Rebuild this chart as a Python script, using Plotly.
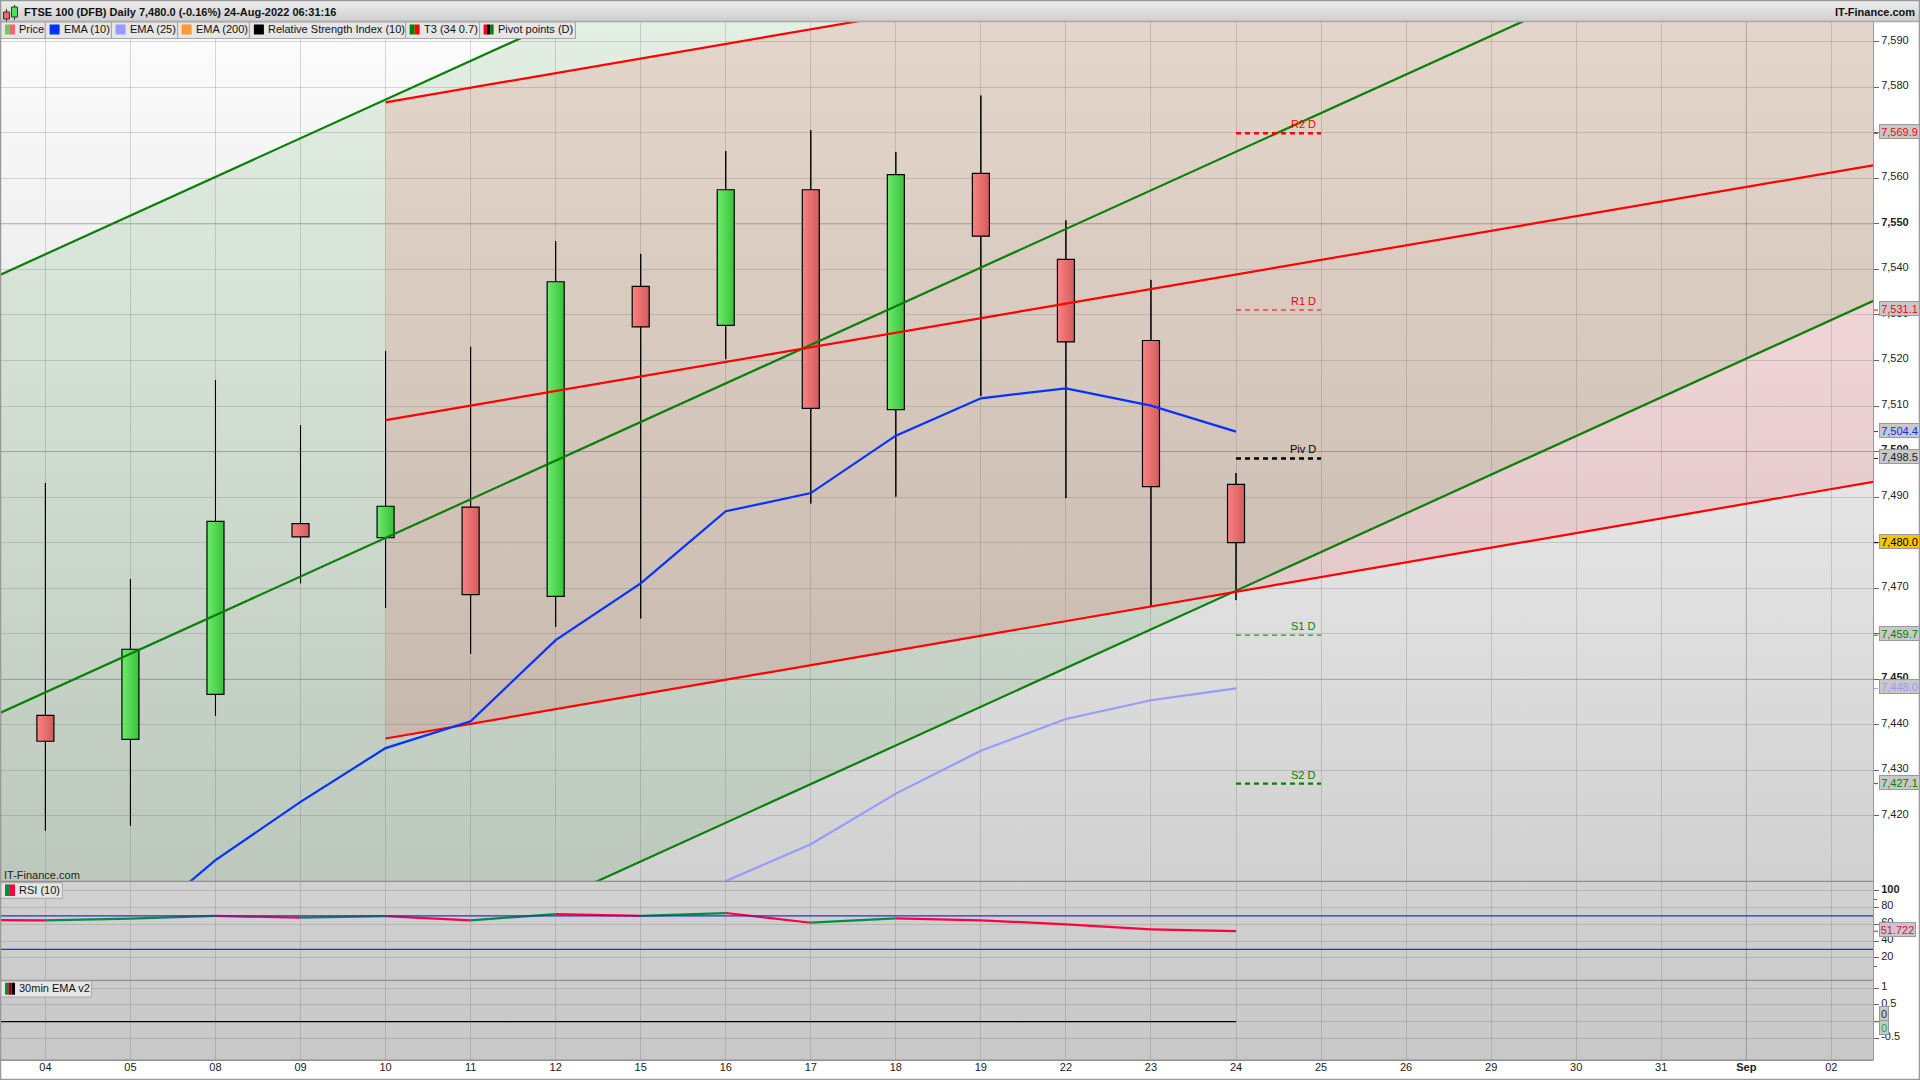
import base64
import plotly.graph_objects as go

W, H = 1920, 1080

# ---------- data ----------
tick_labels = ["04","05","08","09","10","11","12","15","16","17","18","19","22","23","24","25","26","29","30","31","Sep","02"]
candle_pos = list(range(15))
opens  = [7442.1,7436.8,7446.7,7484.2,7481.1,7487.8,7468.2,7536.3,7527.7,7557.5,7509.2,7561.1,7542.2,7524.4,7492.8]
closes = [7436.4,7456.6,7484.7,7481.3,7488.0,7468.6,7537.3,7527.4,7557.5,7509.5,7560.8,7547.3,7524.1,7492.3,7480.0]
highs  = [7493.1,7472.0,7515.7,7505.8,7522.1,7523.0,7546.2,7543.4,7566.0,7570.6,7565.8,7578.2,7550.8,7537.7,7495.3]
lows   = [7416.8,7417.9,7442.0,7471.1,7465.7,7455.6,7461.5,7463.4,7520.3,7488.6,7490.1,7512.2,7489.8,7466.1,7467.4]

ema10_pos = [1,2,3,4,5,6,7,8,9,10,11,12,13,14]
ema10 = [7394.5,7410.3,7423.1,7434.9,7440.8,7458.6,7471.05,7486.9,7490.9,7503.5,7511.7,7513.9,7510.1,7504.4]
ema25_pos = [8,9,10,11,12,13,14]
ema25 = [7405.7,7413.8,7424.9,7434.3,7441.3,7445.4,7448.0]

line_ends = [-1, 22]
green_upper = [7534.85, 7730.1]
green_mid   = [7438.65, 7633.7]
green_lower = [7342.06, 7537.4]
red_ends = [4, 22]
red_upper = [7576.7, 7634.4]
red_mid   = [7506.9, 7564.5]
red_lower = [7437.0, 7495.0]

rsi_pos = [-1,0,1,2,3,4,5,6,7,8,9,10,11,12,13,14]
rsi = [65.2,64.8,66.7,70.0,67.9,69.9,64.8,72.3,70.0,73.5,61.9,67.2,64.8,60.0,54.0,51.72]
rsi_levels = [70, 30]
ema30_pos = [-1,14]
ema30 = [0,0]

pivot_names  = ["R2 D","R1 D","Piv D","S1 D","S2 D"]
pivot_values = [7569.9,7531.1,7498.5,7459.7,7427.1]
pivot_colors = ["#ff0000","#ff0000","#000000","#008000","#008000"]
pivot_widths = [2.4,1,2.4,1,2.4]
pivot_span = [14, 15]

main_ticks = [7420,7430,7440,7450,7460,7470,7480,7490,7500,7510,7520,7530,7540,7550,7560,7570,7580,7590]
rsi_ticks = [100,80,60,40,20]
ema_ticks = [1,0.5,0,-0.5]

legend_items = [("Price",45.3,18.4,["#66cc66","#e86a6a"]),
                ("EMA (10)",111.4,63,["#0033ff"]),
                ("EMA (25)",177.6,129,["#9999ff"]),
                ("EMA (200)",249.4,195,["#ff9933"]),
                ("Relative Strength Index (10)",405.7,267.3,["#000000"]),
                ("T3 (34 0.7)",479.6,423,["#008000","#ff0000"]),
                ("Pivot points (D)",575.5,497,["#ff0000","#000000","#008000"])]

# ---------- pixel helpers for page furniture only ----------
def px(x): return x / W
def py(y): return 1 - y / H

def svg_uri(top, bottom, w=4, h=64):
    s = (f'<svg xmlns="http://www.w3.org/2000/svg" width="{w}" height="{h}" preserveAspectRatio="none">'
         f'<defs><linearGradient id="g" x1="0" y1="0" x2="0" y2="1"><stop offset="0" stop-color="{top}"/>'
         f'<stop offset="1" stop-color="{bottom}"/></linearGradient></defs>'
         f'<rect width="{w}" height="{h}" fill="url(#g)"/></svg>')
    return "data:image/svg+xml;base64," + base64.b64encode(s.encode()).decode()

FONT = "Liberation Sans, Arial, sans-serif"
fig = go.Figure()

def seg(xs, ys, **kw):
    fig.add_trace(go.Scatter(x=xs, y=ys, mode="lines", hoverinfo="skip", showlegend=False, **kw))

# wicks, as hairline bars with a 1px outline so that the bodies paint over them
WICK = 0.001
fig.add_trace(go.Bar(x=candle_pos, y=[h - l for h, l in zip(highs, lows)], base=lows, width=WICK, offset=-WICK / 2,
                     marker=dict(color="#000000", line=dict(color="#000000", width=1)), hoverinfo="skip", showlegend=False))

# candle bodies: overlapping bars painted left to right give the shading
STRIPS = 8
BW = 0.2
green_grad = [(106,232,106),(62,196,62)]
red_grad = [(249,128,128),(214,94,94)]
up = [c >= o for o, c in zip(opens, closes)]
for is_up, grad in ((True, green_grad), (False, red_grad)):
    xs = [p for p, u in zip(candle_pos, up) if u == is_up]
    bases = [min(o, c) for o, c, u in zip(opens, closes, up) if u == is_up]
    tops = [abs(c - o) for o, c, u in zip(opens, closes, up) if u == is_up]
    for k in range(STRIPS):
        t = k / (STRIPS - 1)
        col = "rgb(%d,%d,%d)" % tuple(round(a + (b - a) * t) for a, b in zip(*grad))
        fig.add_trace(go.Bar(x=xs, y=tops, base=bases, width=BW * (1 - k / STRIPS), offset=-BW / 2 + k * BW / STRIPS,
                             marker=dict(color=col, opacity=1, line=dict(width=0)), hoverinfo="skip", showlegend=False))
fig.add_trace(go.Bar(x=candle_pos, y=[abs(c - o) for o, c in zip(opens, closes)],
                     base=[min(o, c) for o, c in zip(opens, closes)], width=BW, offset=-BW / 2,
                     marker=dict(color="rgba(0,0,0,0)", line=dict(color="#000000", width=1.2)),
                     hoverinfo="skip", showlegend=False))

# channels
seg(line_ends, green_upper, line=dict(color="#088008", width=2.2))
seg(line_ends, green_mid, line=dict(color="#088008", width=2.2))
seg(line_ends, green_lower, line=dict(color="#088008", width=2.2))
seg(red_ends, red_upper, line=dict(color="#ff0000", width=2.2))
seg(red_ends, red_mid, line=dict(color="#ff0000", width=2.2))
seg(red_ends, red_lower, line=dict(color="#ff0000", width=2.2))

# EMAs
seg(ema10_pos, ema10, line=dict(color="#0033ff", width=2.2))
seg(ema25_pos, ema25, line=dict(color="#9999ff", width=2.2))

# pivots
for n, v, c, lw in zip(pivot_names, pivot_values, pivot_colors, pivot_widths):
    seg(pivot_span, [v, v], line=dict(color=c, width=lw, dash="5px,4px"))
    fig.add_annotation(x=pivot_span[1], y=v, xref="x", yref="y", text=n, showarrow=False, xanchor="right",
                       yanchor="bottom", xshift=-3, yshift=1, font=dict(family=FONT, size=11, color=c))

# RSI, green on rises and red on falls
for i in range(len(rsi) - 1):
    col = "#008f3c" if rsi[i + 1] >= rsi[i] else "#ff0040"
    seg(rsi_pos[i:i + 2], rsi[i:i + 2], line=dict(color=col, width=2.2), yaxis="y2")
# panel 3
seg(ema30_pos, ema30, line=dict(color="#000000", width=1.2), yaxis="y3")

GRID = "rgba(110,110,110,0.26)"
def ybase(domain, rng, tickvals, ticktext):
    return dict(domain=domain, range=rng, side="right", anchor="x", tickmode="array", tickvals=tickvals,
                ticktext=ticktext, showgrid=True, gridcolor=GRID, gridwidth=1, zeroline=False, ticks="outside",
                ticklen=5, tickcolor="#666666", tickwidth=1, showline=False, ticklabelshift=-2,
                tickfont=dict(family=FONT, size=11, color="#222222"), fixedrange=True, ticklabelposition="outside")

main_text = [("<b>%s</b>" if v % 50 == 0 else "%s") % f"{v:,}" for v in main_ticks]
rsi_text = [("<b>%s</b>" if v == 100 else "%s") % v for v in rsi_ticks]
ema_text = [str(v) for v in ema_ticks]

shapes = []
def channel_path(xs, upper, lower):
    return (f"M {xs[0]},{upper[0]} L {xs[1]},{upper[1]} L {xs[1]},{lower[1]} L {xs[0]},{lower[0]} Z")

# channel fills sit under the candles
shapes.append(dict(type="path", xref="x", yref="y", path=channel_path(line_ends, green_upper, green_lower),
                   fillcolor="rgba(0,128,0,0.10)", line=dict(width=0), layer="below"))
shapes.append(dict(type="path", xref="x", yref="y", path=channel_path(red_ends, red_upper, red_lower),
                   fillcolor="rgba(255,0,0,0.10)", line=dict(width=0), layer="below"))

def line_px(x0, y0, x1, y1, color, width=1, layer="above"):
    shapes.append(dict(type="line", xref="paper", yref="paper", x0=px(x0), y0=py(y0), x1=px(x1), y1=py(y1),
                       line=dict(color=color, width=width), layer=layer))
def rect_px(x0, y0, x1, y1, fill, color=None, width=0):
    shapes.append(dict(type="rect", xref="paper", yref="paper", x0=px(x0), y0=py(y0), x1=px(x1), y1=py(y1),
                       fillcolor=fill, line=dict(color=color or "rgba(0,0,0,0)", width=width), layer="above"))

# stronger grid lines
for v in (7550, 7500, 7450):
    shapes.append(dict(type="line", xref="paper", yref="y", x0=px(1), x1=px(1873), y0=v, y1=v,
                       line=dict(color="rgba(100,100,100,0.30)", width=1), layer="below"))
shapes.append(dict(type="line", xref="x", yref="paper", x0=20, x1=20, y0=py(1060), y1=py(22),
                   line=dict(color="rgba(100,100,100,0.25)", width=1), layer="below"))
# RSI levels
for v in rsi_levels:
    shapes.append(dict(type="line", xref="paper", yref="y2", x0=px(1), x1=px(1873), y0=v, y1=v,
                       line=dict(color="#2a2ae0", width=1.2), layer="above"))

# panel dividers and frame
line_px(1, 881.3, 1873, 881.3, "#8f8f8f", 1.2)
line_px(1, 980.3, 1873, 980.3, "#8f8f8f", 1.2)
line_px(1, 1060.3, 1873, 1060.3, "#8f8f8f", 1.4)
line_px(1873.5, 21.7, 1873.5, 1060.3, "#999999", 1)
line_px(0, 21.5, 1920, 21.5, "#a8a8a8", 1.5)
line_px(0.5, 0, 0.5, 1080, "#999999", 1.5)
line_px(1919.5, 0, 1919.5, 1080, "#999999", 1.5)
line_px(0, 0.5, 1920, 0.5, "#999999", 1.5)
line_px(0, 1079.5, 1920, 1079.5, "#999999", 1.5)

# title icon
line_px(6.5, 9, 6.5, 23, "#333333", 1)
rect_px(3.5, 12, 9.5, 19, "#e86a6a", "#333333", 1)
line_px(14.5, 5, 14.5, 20, "#333333", 1)
rect_px(11.5, 7, 17.5, 17, "#55dd55", "#333333", 1)

annotations = []
def text_px(x, y, text, anchor="left", size=11, color="#111111"):
    annotations.append(dict(xref="paper", yref="paper", x=px(x), y=py(y), text=text, showarrow=False,
                            xanchor=anchor, yanchor="middle", font=dict(family=FONT, size=size, color=color)))

text_px(22, 12, "<b>FTSE 100 (DFB) Daily 7,480.0 (-0.16%) 24-Aug-2022 06:31:16</b>")
text_px(1917, 12, "<b>IT-Finance.com</b>", anchor="right")
text_px(1.5, 875, "IT-Finance.com", color="#222222")

# legend row
prev = 1
for name, right, tx, cols in legend_items:
    rect_px(prev, 22, right, 38.5, "#e6e6e6", "#a6a6a6", 1)
    sw0 = tx - 13.4
    sw = 10 / len(cols)
    for k, c in enumerate(cols):
        rect_px(sw0 + k * sw, 24.5, sw0 + (k + 1) * sw, 34.5, c)
    text_px(tx - 1.5, 29, name)
    prev = right

for name, x1, y0, y1, cols in (("RSI (10)", 62.4, 882.7, 898.3, ["#008f3c", "#ff0040"]),
                               ("30min EMA v2", 91.4, 981, 997, ["#008f3c", "#990000", "#000000"])):
    rect_px(1, y0, x1, y1, "#e6e6e6", "#a6a6a6", 1)
    sw = 10 / len(cols)
    for k, c in enumerate(cols):
        rect_px(5 + k * sw, y0 + 1.7, 5 + (k + 1) * sw, y1 - 2.3, c)
    text_px(17, (y0 + y1) / 2 - 1, name)

# value boxes on the price scale
def value_box(axis, val, text, color, bg="#c8c8c8", yshift=0, width=39, tick=None):
    annotations.append(dict(xref="paper", yref=axis, x=px(1878.5), y=val, text=text, showarrow=False,
                            xanchor="left", yanchor="middle", yshift=yshift + 1.5, width=width, height=13, align="center",
                            bgcolor=bg, bordercolor="#9a9a9a", borderwidth=1, borderpad=0,
                            font=dict(family=FONT, size=11, color=color)))
    shapes.append(dict(type="line", xref="paper", yref=axis, x0=px(1874), x1=px(1878), y0=val, y1=val,
                       line=dict(color=tick or color, width=1), layer="above"))

value_box("y", pivot_values[0], "7,569.9", "#ff0000")
value_box("y", pivot_values[1], "7,531.1", "#ff0000")
value_box("y", ema10[-1], "7,504.4", "#0033ff")
value_box("y", pivot_values[2], "7,498.5", "#222222")
value_box("y", closes[-1], "7,480.0", "#000000", bg="#f7c400")
value_box("y", pivot_values[3], "7,459.7", "#008000")
value_box("y", ema25[-1], "7,448.0", "#9999ff")
value_box("y", pivot_values[4], "7,427.1", "#008000")
value_box("y2", rsi[-1], "51.722", "#ff0040", width=35)
value_box("y3", 0, "0", "#333333", yshift=7, width=8)
value_box("y3", 0, "0", "#22aa22", yshift=-7, width=8)

fig.update_layout(
    width=W, height=H, autosize=False, margin=dict(l=0, r=0, t=0, b=0, pad=0),
    paper_bgcolor="#ffffff", plot_bgcolor="rgba(0,0,0,0)", barmode="overlay", showlegend=False, hovermode=False,
    dragmode=False,
    xaxis=dict(domain=[px(1), px(1873)], range=[-0.522, 21.49], anchor="y3", tickmode="array",
               tickvals=list(range(len(tick_labels))),
               ticktext=[("<b>%s</b>" % t if t == "Sep" else t) for t in tick_labels],
               showgrid=True, gridcolor=GRID, gridwidth=1, zeroline=False, ticks="", ticklen=0,
               ticklabelstandoff=-1, showline=False, fixedrange=True,
               tickfont=dict(family=FONT, size=11, color="#222222")),
    yaxis=ybase([py(881.3), py(21.7)], [7405.65, 7594.4], main_ticks, main_text),
    yaxis2=ybase([py(980.3), py(881.3)], [-7.06, 111.5], rsi_ticks, rsi_text),
    yaxis3=ybase([py(1060.3), py(980.3)], [-1.16, 1.24], ema_ticks, ema_text),
    shapes=shapes, annotations=list(fig.layout.annotations) + annotations,
    images=[
        dict(source=svg_uri("#fcfcfc", "#c8c8c8"), xref="paper", yref="paper", x=px(1), y=py(21.7),
             sizex=px(1872), sizey=(1060.3 - 21.7) / H, sizing="stretch", xanchor="left", yanchor="top", layer="below"),
        dict(source=svg_uri("#eeeeee", "#cecece"), xref="paper", yref="paper", x=0, y=1,
             sizex=1, sizey=21.7 / H, sizing="stretch", xanchor="left", yanchor="top", layer="below"),
    ],
)
fig.layout.yaxis2.update(minor=dict(tickvals=[90, 10], ticks="outside", ticklen=3, tickcolor="#666666", showgrid=False))

fig.write_html("out.html", config=dict(displayModeBar=False, responsive=False),
               post_script="document.body.style.margin='0';document.body.style.overflow='hidden';")
